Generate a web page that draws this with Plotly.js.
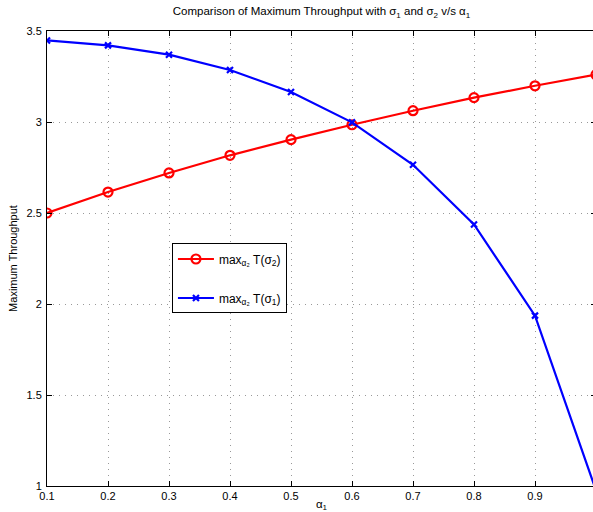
<!DOCTYPE html>
<html><head><meta charset="utf-8">
<script src="https://cdn.plot.ly/plotly-3.0.1.min.js"></script>
<style>html,body{margin:0;padding:0;overflow:hidden;background:#fff;width:593px;height:512px}</style>
</head><body>
<div id="chart" style="width:600px;height:512px"></div>
<script>
const alpha1 = [0.1, 0.2, 0.3, 0.4, 0.5, 0.6, 0.7, 0.8, 0.9, 1.0];
const maxTSigma2 = [2.50, 2.615, 2.72, 2.817, 2.903, 2.985, 3.062, 3.134, 3.199, 3.26];
const maxTSigma1 = [3.448, 3.421, 3.37, 3.286, 3.165, 2.998, 2.765, 2.437, 1.936, 0.975];
const xTicks = [0.1, 0.2, 0.3, 0.4, 0.5, 0.6, 0.7, 0.8, 0.9];
const yTicks = [1, 1.5, 2, 2.5, 3, 3.5];
const FONT = 'Liberation Sans, Arial, Helvetica, sans-serif';

const traces = [
  {x: alpha1, y: maxTSigma2, mode: 'lines+markers', name: 'max<sub>α₂</sub> T(σ<sub>2</sub>)',
   legendgroup: 'a', cliponaxis: true,
   line: {color: '#ff0000', width: 2.2},
   marker: {symbol: 'circle-open', size: 9, color: '#ff0000', line: {width: 2.2, color: '#ff0000'}}},
  {x: alpha1, y: maxTSigma1, mode: 'lines+markers', name: 'max<sub>α₂</sub> T(σ<sub>1</sub>)',
   legendgroup: 'b', cliponaxis: true,
   line: {color: '#0000ff', width: 2.2},
   marker: {symbol: 'x-thin-open', size: 6, color: '#0000ff', line: {width: 2.2, color: '#0000ff'}}}
];

const axisCommon = {
  showline: true, linecolor: '#000', linewidth: 1, mirror: 'ticks',
  ticks: 'inside', ticklen: 5, tickcolor: '#000', tickwidth: 1,
  showgrid: true, gridcolor: '#999', griddash: '1px,5px', gridwidth: 1,
  zeroline: false, tickfont: {family: FONT, size: 11, color: '#000'}
};

const layout = {
  width: 600, height: 512,
  margin: {l: 46.5, r: 3.5, t: 31, b: 26},
  paper_bgcolor: '#fff', plot_bgcolor: '#fff',
  font: {family: FONT, size: 11, color: '#000'},
  title: {text: 'Comparison of Maximum Throughput with σ<sub>1</sub> and σ<sub>2</sub> v/s α<sub>1</sub>',
          font: {family: FONT, size: 11.5, color: '#000'}, x: 0.5, xanchor: 'center', y: 0.978, yanchor: 'middle', xref: 'paper'},
  xaxis: Object.assign({}, axisCommon, {range: [0.1, 1.0], tickvals: xTicks, ticktext: xTicks.map(String),
          title: {text: 'α<sub>1</sub>', font: {family: FONT, size: 11.5}, standoff: 5}}),
  yaxis: Object.assign({}, axisCommon, {range: [1, 3.5], tickvals: yTicks, ticktext: yTicks.map(String),
          ticklabelstandoff: 2,
          title: {text: 'Maximum Throughput', font: {family: FONT, size: 11}, standoff: 6}}),
  showlegend: true,
  legend: {x: 0.2276, y: 0.533, xanchor: 'left', yanchor: 'top',
           bgcolor: '#fff', bordercolor: '#000', borderwidth: 1,
           font: {family: FONT, size: 12, color: '#000'}, tracegroupgap: 20,
           itemwidth: 36}
};

Plotly.newPlot('chart', traces, layout, {displayModeBar: false, staticPlot: true});
</script>
</body></html>
